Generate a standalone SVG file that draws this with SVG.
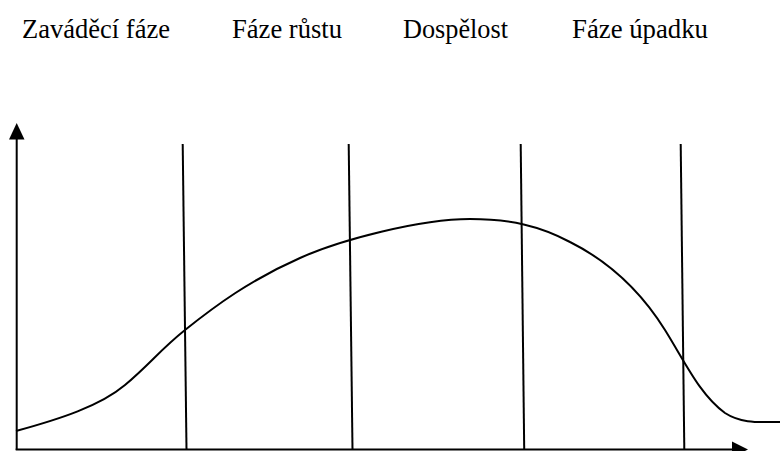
<svg xmlns="http://www.w3.org/2000/svg" width="780" height="451" viewBox="0 0 780 451">
<style>
.lbl{font-family:"Liberation Serif","Times New Roman",serif;font-size:27px;fill:#000}
.ln{stroke:#000;stroke-width:2;fill:none}
</style>
<rect width="780" height="451" fill="#fff"/>
<g id="labels">
<text id="t1" class="lbl" x="22" y="38" textLength="148" lengthAdjust="spacingAndGlyphs">Zaváděcí fáze</text>
<text id="t2" class="lbl" x="232" y="38" textLength="110" lengthAdjust="spacingAndGlyphs">Fáze růstu</text>
<text id="t3" class="lbl" x="403" y="38" textLength="105" lengthAdjust="spacingAndGlyphs">Dospělost</text>
<text id="t4" class="lbl" x="572" y="38" textLength="136" lengthAdjust="spacingAndGlyphs">Fáze úpadku</text>
</g>
<g id="axes">
<line class="ln" x1="16.7" y1="138" x2="16.7" y2="450"/>
<polygon points="16.7,123 9,139.5 24.5,139.5" fill="#000"/>
<line class="ln" x1="15.7" y1="449.5" x2="734" y2="449.5"/>
<polygon points="748,449.5 732,441.5 732,457.5" fill="#000"/>
</g>
<g id="dividers">
<line class="ln" x1="182.7" y1="144" x2="186.5" y2="449"/>
<line class="ln" x1="348.7" y1="144" x2="352.5" y2="449"/>
<line class="ln" x1="520.7" y1="144" x2="524.2" y2="449"/>
<line class="ln" x1="680.7" y1="144" x2="684.3" y2="449"/>
</g>
<g id="curve">
<path class="ln" d="M16,431 C60,419 100,406 125,385 C150,364 160,350 185,330 C215,306 250,280 300,258 C340,240 420,219 470,219 C510,219 540,226 570,242 C610,262 640,290 665,330 C685,362 700,395 725,413 C742,424 760,422 780,422"/>
</g>
</svg>
